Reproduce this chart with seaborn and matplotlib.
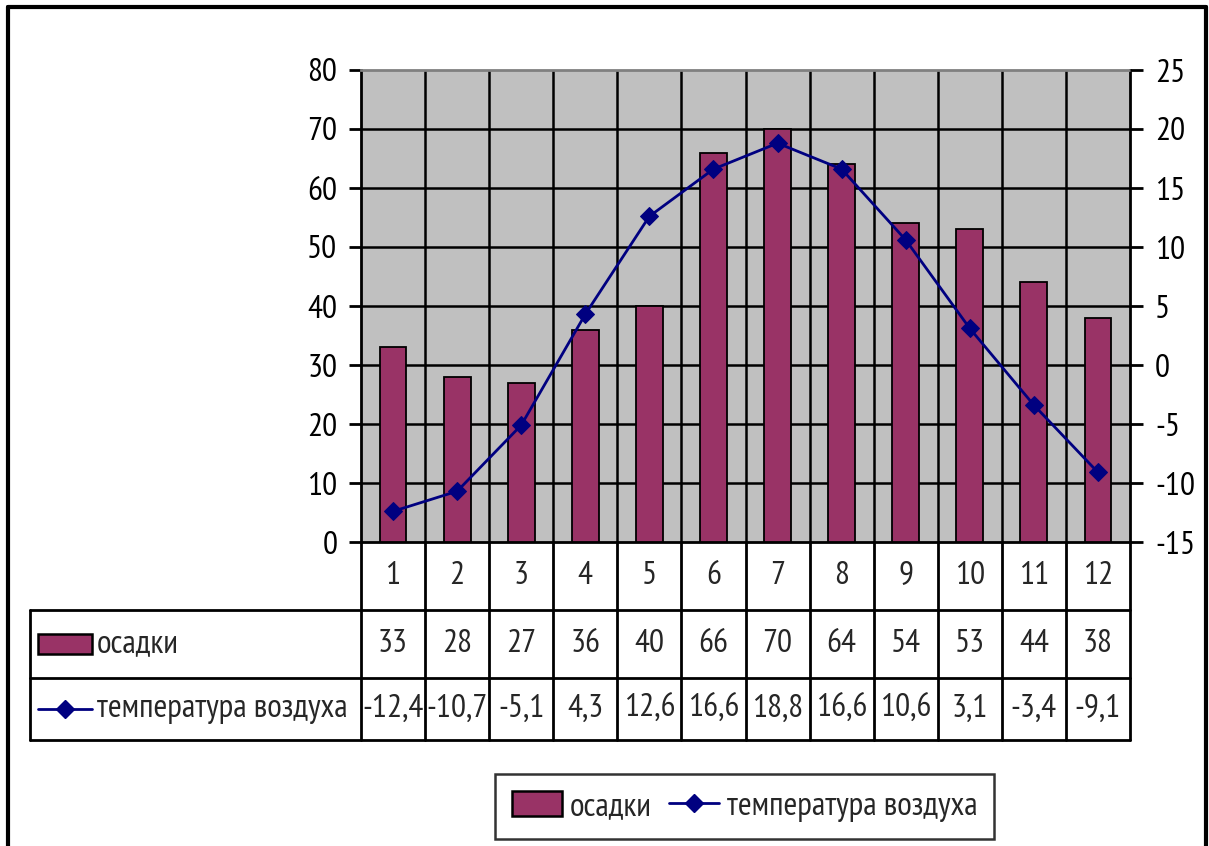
import numpy as np
import pandas as pd
import matplotlib
matplotlib.use("Agg")
import matplotlib.pyplot as plt
from matplotlib.lines import Line2D
from matplotlib.patches import Patch, Rectangle
import matplotlib.transforms as mtransforms
import seaborn as sns

# Monthly climate data
months = [1, 2, 3, 4, 5, 6, 7, 8, 9, 10, 11, 12]
precip = [33, 28, 27, 36, 40, 66, 70, 64, 54, 53, 44, 38]
temperature = [-12.4, -10.7, -5.1, 4.3, 12.6, 16.6, 18.8, 16.6, 10.6, 3.1, -3.4, -9.1]
precip_label = "осадки"
temp_label = "температура воздуха"
left_ticks = [0, 10, 20, 30, 40, 50, 60, 70, 80]
right_ticks = [-15, -10, -5, 0, 5, 10, 15, 20, 25]

BAR = "#993366"
LINE = "#000080"
PLOT_BG = "#C0C0C0"
FS = 24

sns.set_theme(style="white")
plt.rcParams["font.family"] = ["PT Sans Narrow", "DejaVu Sans"]
plt.rcParams["axes.unicode_minus"] = False

W, H = 1209, 846
fig = plt.figure(figsize=(W / 100, H / 100), dpi=100)
fig.patch.set_facecolor("white")

# plot area in pixel terms
L, T, R, B = 361, 70, 1130, 542
ax = fig.add_axes([L / W, 1 - B / H, (R - L) / W, (B - T) / H])
ax.set_facecolor(PLOT_BG)

df = pd.DataFrame({"month": [str(m) for m in months], "precip": precip})
sns.barplot(data=df, x="month", y="precip", color=BAR, width=0.42,
            edgecolor="black", linewidth=1.3, saturation=1, ax=ax, zorder=3)
ax.set_xlim(-0.5, len(months) - 0.5)
ax.set_ylim(left_ticks[0], left_ticks[-1])
ax.set_yticks(left_ticks)
ax.set_xlabel("")
ax.set_ylabel("")
ax.set_xticks([])
ax.tick_params(axis="y", labelsize=FS, direction="out", length=9, width=2,
               color="black", pad=8, left=True, labelcolor="black")

# horizontal gridlines and category separators
for v in left_ticks[1:-1]:
    ax.axhline(v, color="black", lw=1.8, zorder=1)
for i in range(1, len(months)):
    ax.axvline(i - 0.5, color="black", lw=1.8, zorder=1)

for s in ["left", "right", "bottom"]:
    ax.spines[s].set_color("black")
    ax.spines[s].set_linewidth(2)
ax.spines["top"].set_color("#808080")
ax.spines["top"].set_linewidth(2)

ax2 = ax.twinx()
sns.lineplot(x=np.arange(len(months)), y=temperature, color=LINE, lw=2,
             marker="D", markersize=9, markeredgecolor=LINE, ax=ax2, zorder=5)
ax2.set_ylim(right_ticks[0], right_ticks[-1])
ax2.set_yticks(right_ticks)
ax2.tick_params(axis="y", labelsize=FS, direction="out", length=9, width=2,
                color="black", pad=9, right=True, labelcolor="black")
for s in ax2.spines.values():
    s.set_visible(False)
ax2.grid(False)
ax.grid(False)

# data table below the plot (x in data units, y in axes fraction)
tr = mtransforms.blended_transform_factory(ax.transData, ax.transAxes)
ph = B - T
unit = (R - L) / len(months)
row_edges = [0, -(610 - B) / ph, -(678 - B) / ph, -(740 - B) / ph]
x_left_table = -0.5 - (L - 30) / unit
x_label = -0.5 - (L - 97) / unit
lkw = dict(color="black", lw=2, transform=tr, clip_on=False)

# vertical table lines
for i in range(len(months) + 1):
    ax.add_line(Line2D([i - 0.5, i - 0.5], [row_edges[0], row_edges[3]], **lkw))
ax.add_line(Line2D([x_left_table, x_left_table], [row_edges[1], row_edges[3]], **lkw))
# horizontal table lines
for y in row_edges[1:]:
    ax.add_line(Line2D([x_left_table, len(months) - 0.5], [y, y], **lkw))

def mid(a, b):
    return (a + b) / 2

tkw = dict(transform=tr, ha="center", va="center", fontsize=FS, clip_on=False)
for i, m in enumerate(months):
    ax.text(i, mid(row_edges[0], row_edges[1]), str(m), **tkw)
    ax.text(i, mid(row_edges[1], row_edges[2]), str(precip[i]), **tkw)
    ax.text(i, mid(row_edges[2], row_edges[3]),
            f"{temperature[i]:.1f}".replace(".", ","), **tkw)

# row headers with legend keys
r2 = mid(row_edges[1], row_edges[2])
r3 = mid(row_edges[2], row_edges[3])
kx0 = -0.5 - (L - 38) / unit
kx1 = -0.5 - (L - 92) / unit
ax.add_patch(Rectangle((kx0, r2 - 10 / ph), kx1 - kx0, 20 / ph, facecolor=BAR,
                       edgecolor="black", lw=1.8, transform=tr, clip_on=False))
ax.text(x_label, r2, precip_label, transform=tr, ha="left", va="center",
        fontsize=FS, clip_on=False)
ax.add_line(Line2D([kx0, kx1], [r3, r3], color=LINE, lw=2, transform=tr, clip_on=False))
ax.add_line(Line2D([mid(kx0, kx1)], [r3], color=LINE, marker="D", markersize=9,
                   transform=tr, clip_on=False))
ax.text(x_label, r3, temp_label, transform=tr, ha="left", va="center",
        fontsize=FS, clip_on=False)

# legend
handles = [Patch(facecolor=BAR, edgecolor="black", lw=1.8),
           Line2D([], [], color=LINE, lw=2, marker="D", markersize=9)]
leg = fig.legend(handles, [precip_label, temp_label], loc="center",
                 bbox_to_anchor=((502 + 987) / 2 / W, 1 - (773 + 840) / 2 / H),
                 ncol=2, fontsize=FS, frameon=True, fancybox=False,
                 handlelength=1.5, handleheight=0.8, handletextpad=0.25,
                 columnspacing=0.5, borderpad=0.5, borderaxespad=0)
leg.get_frame().set_edgecolor("black")
leg.get_frame().set_linewidth(1.8)

# chart frame
fkw = dict(color="black", lw=3, transform=fig.transFigure)
fig.add_artist(Line2D([8 / W, 8 / W], [0, 1 - 7 / H], **fkw))
fig.add_artist(Line2D([8 / W, 1206 / W], [1 - 7 / H, 1 - 7 / H], **fkw))
fig.add_artist(Line2D([1206 / W, 1206 / W], [0, 1 - 7 / H], **fkw))

fig.savefig("out.png", dpi=100)
